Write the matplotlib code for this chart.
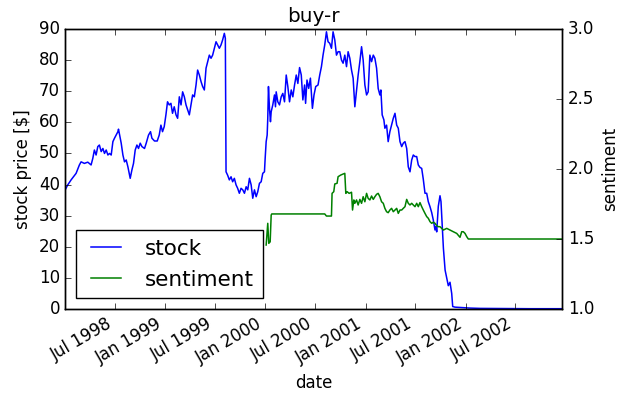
import datetime as dt

import matplotlib
matplotlib.use("Agg")
import matplotlib.pyplot as plt
import matplotlib.dates as mdates

# stock price (time in decimal years)
stock_t = [
    1998.003, 1998.026, 1998.059, 1998.109, 1998.142, 1998.159, 1998.192, 1998.226,
    1998.259, 1998.276, 1998.292, 1998.309, 1998.326, 1998.342, 1998.360, 1998.377,
    1998.393, 1998.410, 1998.427, 1998.443, 1998.460, 1998.477, 1998.493, 1998.527,
    1998.533, 1998.560, 1998.577, 1998.593, 1998.610, 1998.627, 1998.650, 1998.667,
    1998.683, 1998.700, 1998.717, 1998.733, 1998.750, 1998.767, 1998.793, 1998.810,
    1998.833, 1998.853, 1998.867, 1998.893, 1998.920, 1998.940, 1998.957, 1998.973,
    1998.990, 1999.007, 1999.023, 1999.040, 1999.057, 1999.073, 1999.090, 1999.108,
    1999.124, 1999.141, 1999.158, 1999.174, 1999.191, 1999.208, 1999.224, 1999.241,
    1999.258, 1999.274, 1999.291, 1999.308, 1999.324, 1999.341, 1999.358, 1999.374,
    1999.391, 1999.408, 1999.424, 1999.441, 1999.458, 1999.474, 1999.491, 1999.508,
    1999.524, 1999.541, 1999.558, 1999.574, 1999.591, 1999.601, 1999.608, 1999.624,
    1999.641, 1999.658, 1999.674, 1999.691, 1999.708, 1999.724, 1999.741, 1999.758,
    1999.775, 1999.792, 1999.809, 1999.825, 1999.842, 1999.859, 1999.875, 1999.892,
    1999.909, 1999.925, 1999.942, 1999.959, 1999.975, 1999.992, 1999.999, 2000.009,
    2000.019, 2000.025, 2000.032, 2000.042, 2000.052, 2000.059, 2000.075, 2000.092,
    2000.102, 2000.109, 2000.125, 2000.142, 2000.159, 2000.175, 2000.192, 2000.209,
    2000.225, 2000.242, 2000.259, 2000.275, 2000.292, 2000.309, 2000.325, 2000.342,
    2000.359, 2000.375, 2000.392, 2000.402, 2000.416, 2000.433, 2000.450, 2000.470,
    2000.486, 2000.503, 2000.526, 2000.543, 2000.560, 2000.576, 2000.593, 2000.610,
    2000.626, 2000.643, 2000.660, 2000.676, 2000.693, 2000.710, 2000.726, 2000.743,
    2000.760, 2000.776, 2000.793, 2000.810, 2000.826, 2000.843, 2000.860, 2000.876,
    2000.893, 2000.910, 2000.926, 2000.943, 2000.960, 2000.976, 2000.993, 2001.010,
    2001.026, 2001.043, 2001.060, 2001.077, 2001.093, 2001.110, 2001.126, 2001.143,
    2001.153, 2001.166, 2001.183, 2001.193, 2001.210, 2001.226, 2001.243, 2001.260,
    2001.277, 2001.294, 2001.311, 2001.327, 2001.344, 2001.361, 2001.377, 2001.394,
    2001.411, 2001.427, 2001.444, 2001.461, 2001.477, 2001.494, 2001.511, 2001.527,
    2001.544, 2001.561, 2001.577, 2001.594, 2001.611, 2001.627, 2001.644, 2001.661,
    2001.677, 2001.694, 2001.704, 2001.711, 2001.727, 2001.744, 2001.754, 2001.761,
    2001.778, 2001.795, 2001.811, 2001.827, 2001.844, 2001.861, 2001.871, 2001.894,
    2001.945, 2001.995, 2002.045, 2002.145, 2002.345, 2002.645, 2002.965,
]
stock_price = [
    38.5, 39.9, 41.5, 43.6, 46.3, 47.3, 46.8, 47.2,
    46.3, 48.4, 51.1, 49.5, 52.2, 52.7, 50.6, 51.6,
    50.0, 51.1, 49.5, 50.0, 49.5, 53.8, 54.9, 57.0,
    57.8, 53.3, 49.5, 47.3, 47.9, 45.7, 42.0, 44.7,
    46.8, 51.1, 52.7, 51.6, 53.3, 52.2, 51.6, 53.3,
    55.9, 57.0, 54.9, 54.0, 54.0, 55.9, 59.1, 57.0,
    58.6, 62.4, 66.6, 65.6, 66.1, 62.9, 65.0, 62.4,
    61.3, 68.2, 65.6, 69.8, 68.2, 65.6, 64.0, 62.4,
    65.6, 68.8, 68.2, 72.0, 76.8, 75.2, 73.1, 71.5,
    70.4, 77.4, 79.5, 81.6, 80.6, 81.6, 83.8, 85.9,
    84.9, 83.8, 84.9, 86.5, 88.6, 87.0, 44.1, 43.0,
    41.5, 42.5, 40.9, 42.0, 39.9, 38.8, 37.2, 38.8,
    38.3, 37.2, 39.3, 38.3, 42.0, 39.9, 35.6, 38.3,
    36.1, 37.7, 40.4, 40.9, 43.6, 44.1, 48.4, 53.8,
    55.9, 61.3, 71.5, 64.5, 60.2, 63.4, 65.6, 68.8,
    65.0, 69.8, 66.6, 65.6, 68.2, 69.3, 66.6, 75.2,
    71.5, 66.6, 70.4, 68.2, 72.0, 75.2, 72.5, 77.6,
    75.2, 67.2, 72.0, 66.1, 73.6, 70.9, 74.2, 64.5,
    68.8, 71.5, 72.0, 75.2, 77.9, 81.6, 84.9, 89.1,
    85.9, 85.4, 83.8, 89.1, 86.5, 81.6, 82.7, 82.7,
    80.0, 79.0, 81.6, 77.9, 82.7, 80.6, 76.8, 74.2,
    65.0, 70.4, 75.2, 79.5, 84.3, 80.0, 72.0, 68.8,
    69.8, 81.6, 79.5, 81.6, 80.6, 77.4, 70.9, 68.8,
    70.4, 62.4, 60.8, 58.1, 59.1, 53.8, 57.0, 59.1,
    61.3, 62.9, 59.1, 58.1, 53.8, 52.2, 53.3, 53.8,
    51.6, 45.7, 44.1, 47.9, 49.5, 49.0, 49.0, 46.3,
    45.5, 45.2, 41.7, 37.2, 37.2, 34.5, 32.9, 31.0,
    28.6, 25.4, 26.5, 24.8, 33.0, 36.4, 34.5, 30.0,
    19.5, 12.5, 10.0, 7.5, 8.6, 5.0, 0.8, 0.6,
    0.5, 0.4, 0.3, 0.2, 0.15, 0.1, 0.1,
]

# sentiment score
sent_t = [
    2000.009, 2000.025, 2000.035, 2000.049, 2000.059, 2000.065, 2000.593, 2000.610,
    2000.660, 2000.666, 2000.683, 2000.693, 2000.716, 2000.726, 2000.753, 2000.776,
    2000.793, 2000.803, 2000.816, 2000.836, 2000.860, 2000.870, 2000.883, 2000.893,
    2000.910, 2000.926, 2000.943, 2000.960, 2000.976, 2000.993, 2001.010, 2001.026,
    2001.043, 2001.060, 2001.077, 2001.093, 2001.110, 2001.126, 2001.143, 2001.160,
    2001.177, 2001.193, 2001.210, 2001.226, 2001.243, 2001.260, 2001.277, 2001.294,
    2001.311, 2001.327, 2001.344, 2001.361, 2001.377, 2001.394, 2001.411, 2001.427,
    2001.444, 2001.461, 2001.477, 2001.494, 2001.511, 2001.527, 2001.544, 2001.561,
    2001.577, 2001.594, 2001.611, 2001.627, 2001.644, 2001.661, 2001.677, 2001.694,
    2001.711, 2001.727, 2001.744, 2001.761, 2001.778, 2001.811, 2001.844, 2001.877,
    2001.911, 2001.944, 2001.961, 2001.977, 2001.994, 2002.011, 2002.027, 2002.965,
]
sentiment = [
    1.457, 1.612, 1.469, 1.480, 1.671, 1.679, 1.679, 1.664,
    1.664, 1.826, 1.838, 1.893, 1.898, 1.945, 1.957, 1.964,
    1.969, 1.826, 1.838, 1.826, 1.834, 1.707, 1.779, 1.755,
    1.779, 1.743, 1.783, 1.755, 1.802, 1.766, 1.826, 1.790,
    1.779, 1.807, 1.783, 1.802, 1.819, 1.826, 1.802, 1.766,
    1.755, 1.719, 1.695, 1.688, 1.707, 1.719, 1.695, 1.707,
    1.719, 1.683, 1.707, 1.707, 1.719, 1.731, 1.783, 1.755,
    1.743, 1.755, 1.743, 1.731, 1.755, 1.731, 1.760, 1.731,
    1.707, 1.683, 1.660, 1.648, 1.624, 1.612, 1.620, 1.612,
    1.595, 1.588, 1.588, 1.576, 1.564, 1.576, 1.564, 1.552,
    1.540, 1.512, 1.552, 1.552, 1.540, 1.517, 1.500, 1.500,
]


def to_date(year_frac):
    year = int(year_frac)
    start = dt.datetime(year, 1, 1)
    days = (dt.datetime(year + 1, 1, 1) - start).days
    return start + dt.timedelta(days=(year_frac - year) * days)


plt.style.use("classic")

stock_dates = [to_date(t) for t in stock_t]
sent_dates = [to_date(t) for t in sent_t]

fig, ax = plt.subplots(figsize=(6.26, 4.01), dpi=100, facecolor="white")
line1, = ax.plot(stock_dates, stock_price, color="b", lw=1.1, label="stock")
ax.set_ylim(0, 90)
ax.set_yticks(range(0, 91, 10))
ax.set_ylabel("stock price [\\$]")
ax.set_xlabel("date")
ax.set_title("buy-r")

ax2 = ax.twinx()
line2, = ax2.plot(sent_dates, sentiment, color="g", lw=1.1, label="sentiment")
ax2.set_ylim(1.0, 3.0)
ax2.set_yticks([1.0, 1.5, 2.0, 2.5, 3.0])
ax2.set_ylabel("sentiment")

ax.set_xlim(to_date(stock_t[0]), to_date(stock_t[-1]))
ax.xaxis.set_major_locator(mdates.MonthLocator(bymonth=[1, 7]))
ax.xaxis.set_major_formatter(mdates.DateFormatter("%b %Y"))
for lbl in ax.get_xticklabels():
    lbl.set_rotation(30)
    lbl.set_ha("right")

ax2.legend([line1, line2], ["stock", "sentiment"], loc="lower left",
           fontsize=15.5)

fig.subplots_adjust(left=0.1046, right=0.898, top=0.9277, bottom=0.2294)
fig.savefig("out.png", dpi=100, facecolor="white")
